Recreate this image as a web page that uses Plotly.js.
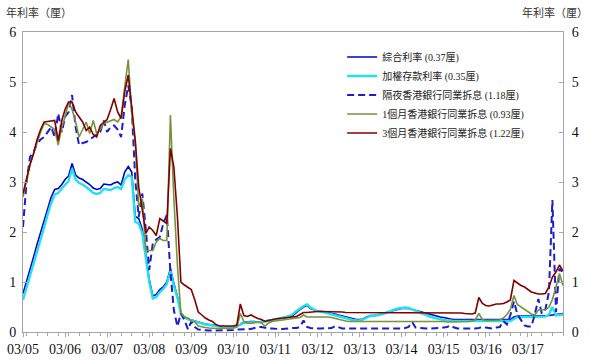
<!DOCTYPE html>
<html>
<head>
<meta charset="utf-8">
<script src="https://cdn.plot.ly/plotly-3.0.1.min.js"></script>
<style>html,body{margin:0;padding:0;background:#fff;}#chart{width:597px;height:364px;}</style>
</head>
<body>
<div id="chart"></div>
<script>
// Monthly observations, March 2005 to January 2018
const startYear = 2005, startMonth = 3;
const tickLabels = ['03/05','03/06','03/07','03/08','03/09','03/10','03/11','03/12','03/13','03/14','03/15','03/16','03/17'];
const seriesNames = ['綜合利率 (0.37厘)','加權存款利率 (0.35厘)','隔夜香港銀行同業拆息 (1.18厘)','1個月香港銀行同業拆息 (0.93厘)','3個月香港銀行同業拆息 (1.22厘)'];

const composite = [
0.77,1.0,1.25,1.5,1.75,1.98,2.2,2.45,2.7,2.85,2.87,2.95,
3.05,3.12,3.37,3.14,3.08,3.05,3.0,2.95,2.88,2.85,2.87,2.96,
2.95,2.94,2.98,3.0,2.94,3.2,3.31,3.2,2.31,2.27,2.05,1.5,
1.05,0.72,0.75,0.85,0.9,1.0,1.27,0.97,0.71,0.38,0.3,0.26,
0.24,0.22,0.2,0.17,0.16,0.15,0.14,0.12,0.11,0.11,0.1,0.1,
0.1,0.12,0.15,0.2,0.21,0.21,0.21,0.2,0.21,0.22,0.23,0.25,
0.26,0.27,0.28,0.29,0.3,0.33,0.4,0.45,0.5,0.53,0.47,0.44,
0.42,0.41,0.4,0.38,0.37,0.36,0.34,0.32,0.3,0.28,0.26,0.25,
0.25,0.26,0.3,0.33,0.33,0.34,0.35,0.37,0.4,0.42,0.44,0.46,
0.47,0.47,0.47,0.45,0.43,0.41,0.39,0.37,0.35,0.33,0.31,0.3,
0.29,0.27,0.26,0.25,0.25,0.25,0.25,0.25,0.25,0.25,0.25,0.25,
0.25,0.25,0.25,0.25,0.25,0.25,0.25,0.25,0.3,0.32,0.32,0.32,
0.32,0.32,0.32,0.32,0.32,0.33,0.33,0.34,0.35,0.36,0.37];

const weightedDeposit = [
0.64,0.88,1.12,1.38,1.62,1.86,2.1,2.35,2.58,2.75,2.78,2.87,
2.95,3.02,3.26,3.05,2.98,2.95,2.9,2.85,2.78,2.76,2.78,2.86,
2.85,2.84,2.88,2.9,2.86,3.05,3.14,3.1,2.2,2.17,1.97,1.43,
1.0,0.67,0.7,0.8,0.86,0.96,1.22,0.93,0.68,0.36,0.29,0.25,
0.23,0.21,0.19,0.17,0.15,0.14,0.13,0.11,0.1,0.1,0.09,0.09,
0.09,0.11,0.14,0.18,0.19,0.19,0.2,0.19,0.2,0.21,0.22,0.24,
0.25,0.27,0.28,0.3,0.32,0.36,0.42,0.47,0.52,0.55,0.49,0.45,
0.42,0.41,0.39,0.37,0.35,0.33,0.31,0.29,0.27,0.26,0.24,0.23,
0.23,0.25,0.29,0.32,0.32,0.33,0.35,0.37,0.4,0.43,0.45,0.47,
0.48,0.49,0.48,0.45,0.42,0.39,0.36,0.34,0.31,0.29,0.27,0.25,
0.24,0.23,0.22,0.22,0.22,0.22,0.22,0.22,0.22,0.22,0.22,0.22,
0.22,0.22,0.22,0.22,0.22,0.22,0.22,0.22,0.26,0.3,0.3,0.3,
0.3,0.3,0.3,0.3,0.3,0.31,0.35,0.5,0.33,0.34,0.35];

const overnightHibor = [
2.1,3.0,3.5,3.6,3.77,3.85,3.9,4.0,4.1,3.9,4.37,4.0,
4.3,4.4,4.74,4.1,3.74,3.78,3.8,3.85,3.9,3.95,4.0,4.23,
4.0,4.1,4.13,4.05,3.9,4.53,4.93,4.5,3.04,2.3,2.77,2.04,
1.24,1.77,1.85,1.9,2.17,2.34,1.2,0.44,0.11,0.37,0.24,0.05,
0.21,0.1,0.05,0.04,0.03,0.03,0.03,0.03,0.03,0.03,0.03,0.04,
0.04,0.05,0.05,0.05,0.05,0.06,0.08,0.1,0.1,0.08,0.07,0.07,
0.06,0.06,0.06,0.07,0.07,0.08,0.08,0.1,0.23,0.1,0.08,0.07,
0.07,0.07,0.07,0.08,0.08,0.12,0.09,0.07,0.07,0.07,0.06,0.06,
0.06,0.06,0.06,0.07,0.07,0.07,0.07,0.07,0.07,0.07,0.07,0.07,
0.07,0.08,0.1,0.2,0.09,0.08,0.07,0.07,0.07,0.07,0.07,0.08,
0.09,0.1,0.13,0.09,0.07,0.07,0.06,0.06,0.07,0.07,0.08,0.1,
0.09,0.08,0.07,0.09,0.1,0.22,0.15,0.34,0.61,0.35,0.24,0.13,
0.11,0.11,0.35,0.66,0.37,0.45,0.8,2.64,0.4,1.27,1.18];

const hibor1M = [
2.7,3.05,3.35,3.57,3.8,4.0,4.17,4.15,4.1,4.05,3.74,4.1,
4.3,4.6,4.45,4.2,3.9,4.05,4.2,3.97,4.23,3.97,4.05,4.17,
4.2,4.23,4.25,4.2,4.3,4.9,5.45,4.37,3.77,2.5,2.67,1.63,
1.63,1.63,1.8,1.87,1.83,1.83,4.34,2.67,1.33,0.38,0.3,0.28,
0.22,0.2,0.12,0.1,0.09,0.08,0.07,0.07,0.07,0.07,0.07,0.07,
0.08,0.1,0.37,0.21,0.18,0.17,0.19,0.21,0.18,0.12,0.18,0.21,
0.22,0.23,0.24,0.25,0.26,0.27,0.27,0.29,0.34,0.3,0.3,0.3,
0.31,0.31,0.31,0.3,0.29,0.27,0.25,0.23,0.22,0.21,0.21,0.21,
0.21,0.21,0.22,0.22,0.22,0.22,0.22,0.22,0.22,0.22,0.22,0.22,
0.22,0.22,0.22,0.22,0.22,0.22,0.22,0.22,0.22,0.22,0.21,0.21,
0.21,0.2,0.2,0.2,0.2,0.2,0.2,0.21,0.22,0.24,0.37,0.25,
0.23,0.23,0.23,0.23,0.24,0.28,0.35,0.45,0.73,0.55,0.5,0.45,
0.42,0.36,0.34,0.44,0.45,0.44,0.5,0.65,0.9,1.17,0.93];

const hibor3M = [
2.77,3.1,3.35,3.57,3.85,4.05,4.2,4.21,4.22,4.23,3.83,4.23,
4.45,4.6,4.6,4.4,4.3,4.2,4.03,4.1,3.95,3.9,4.13,4.2,
4.25,4.45,4.67,4.4,4.27,4.8,5.14,4.5,3.83,2.9,2.4,1.97,
2.1,2.03,1.93,2.27,2.22,2.17,3.67,3.3,2.3,1.0,0.94,0.9,
0.85,0.64,0.4,0.34,0.28,0.24,0.21,0.15,0.12,0.12,0.12,0.12,
0.12,0.14,0.56,0.33,0.31,0.34,0.3,0.27,0.25,0.21,0.23,0.25,
0.26,0.27,0.28,0.28,0.29,0.3,0.31,0.35,0.39,0.39,0.4,0.4,
0.41,0.41,0.41,0.4,0.4,0.4,0.4,0.4,0.39,0.39,0.39,0.39,
0.39,0.38,0.38,0.38,0.38,0.38,0.38,0.38,0.38,0.38,0.38,0.38,
0.39,0.39,0.39,0.38,0.38,0.38,0.38,0.38,0.38,0.38,0.38,0.38,
0.38,0.38,0.38,0.38,0.39,0.38,0.37,0.36,0.36,0.38,0.69,0.57,
0.53,0.52,0.54,0.56,0.56,0.57,0.6,0.64,1.03,0.98,0.93,0.9,
0.85,0.8,0.78,0.76,0.76,0.77,0.9,1.1,1.2,1.34,1.22];

function monthDates(n) {
  const out = [];
  for (let i = 0; i < n; i++) {
    const t = startMonth - 1 + i;
    const y = startYear + Math.floor(t / 12);
    const m = (t % 12) + 1;
    out.push(y + '-' + String(m).padStart(2, '0') + '-01');
  }
  return out;
}
const dates = monthDates(composite.length);
const tickVals = tickLabels.map((_, i) => (startYear + i) + '-03-01');

const serif = '"Liberation Serif", "Times New Roman", Times, serif';
const legendFont = '"Liberation Serif", "Noto Sans CJK TC", serif';
const cjk = '"Noto Sans CJK TC", "Liberation Serif", serif';

const styles = [
  {color: '#0000cc', width: 1.6, dash: 'solid'},
  {color: '#22e0ee', width: 2.4, dash: 'solid'},
  {color: '#1c1ccc', width: 2, dash: '7px,4px'},
  {color: '#77933c', width: 1.6, dash: 'solid'},
  {color: '#800000', width: 1.6, dash: 'solid'}
];
const values = [composite, weightedDeposit, overnightHibor, hibor1M, hibor3M];

const traces = values.map((v, i) => ({
  type: 'scatter', mode: 'lines', x: dates, y: v, name: seriesNames[i],
  line: styles[i]
}));
// invisible companion trace so the right-hand axis is drawn
traces.push({type: 'scatter', mode: 'lines', x: dates, y: composite, yaxis: 'y2',
  showlegend: false, hoverinfo: 'skip', opacity: 0, line: {width: 0}});

const axisColor = '#a6a6a6';
const layout = {
  width: 597, height: 364,
  margin: {l: 23, r: 34, t: 32, b: 32},
  paper_bgcolor: '#fff', plot_bgcolor: '#fff',
  showlegend: true,
  legend: {x: 0.591, y: 0.965, xanchor: 'left', yanchor: 'top',
    font: {family: legendFont, size: 10, color: '#222'}, bgcolor: 'rgba(0,0,0,0)',
    itemwidth: 30, tracegroupgap: 0},
  xaxis: {
    type: 'date', range: ['2005-03-01', '2018-01-01'],
    tickmode: 'array', tickvals: tickVals, ticktext: tickLabels,
    ticks: 'outside', ticklen: 4, tickcolor: axisColor,
    minor: {dtick: 'M3', ticks: 'outside', ticklen: 3, tickcolor: axisColor, showgrid: false},
    showline: true, linecolor: axisColor, linewidth: 1, mirror: true,
    showgrid: false, zeroline: false,
    tickfont: {family: serif, size: 14, color: '#111'}
  },
  yaxis: {
    range: [0, 6], dtick: 1, ticks: 'inside', ticklen: 4, tickcolor: axisColor,
    showline: true, linecolor: axisColor, linewidth: 1,
    showgrid: false, zeroline: false, ticklabelstandoff: 3,
    tickfont: {family: serif, size: 14, color: '#111'}
  },
  yaxis2: {
    range: [0, 6], dtick: 1, overlaying: 'y', side: 'right',
    ticks: 'inside', ticklen: 4, tickcolor: axisColor,
    showline: true, linecolor: axisColor, linewidth: 1,
    showgrid: false, zeroline: false, ticklabelstandoff: 5,
    tickfont: {family: serif, size: 14, color: '#111'}
  },
  annotations: [
    {text: '年利率（厘）', xref: 'paper', yref: 'paper', x: -0.035, y: 1.0, yshift: 20,
     xanchor: 'left', yanchor: 'middle', showarrow: false, font: {family: cjk, size: 11, color: '#333'}},
    {text: '年利率（厘）', xref: 'paper', yref: 'paper', x: 1.05, y: 1.0, yshift: 20,
     xanchor: 'right', yanchor: 'middle', showarrow: false, font: {family: cjk, size: 11, color: '#333'}}
  ]
};

Plotly.newPlot('chart', traces, layout, {displayModeBar: false, staticPlot: true});
</script>
</body>
</html>
